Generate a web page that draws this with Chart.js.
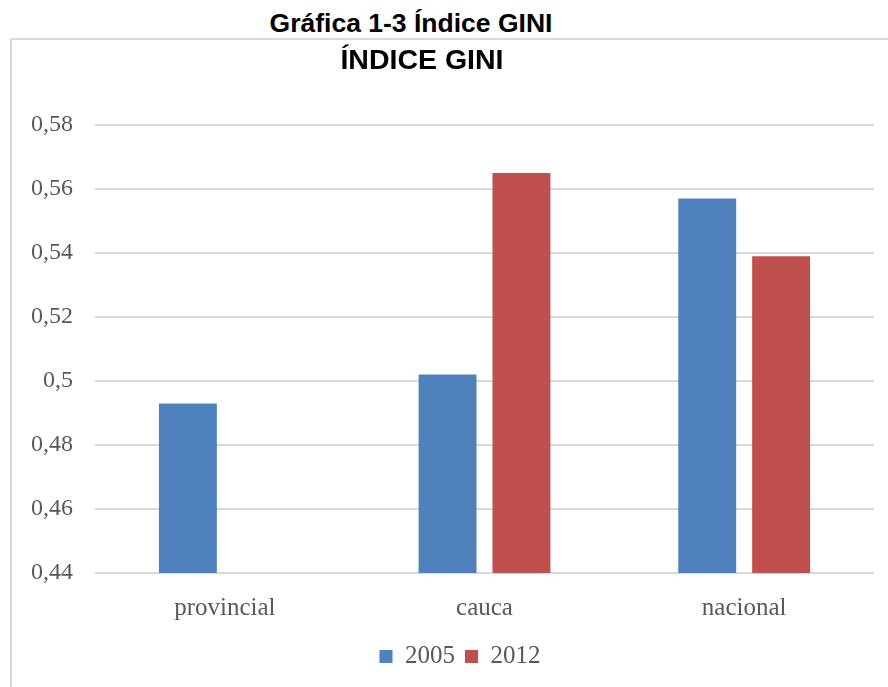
<!DOCTYPE html>
<html lang="es">
<head>
<meta charset="utf-8">
<title>Gráfica 1-3 Índice GINI</title>
<script src="https://cdn.jsdelivr.net/npm/chart.js@4"></script>
<style>
    html, body {
        margin: 0;
        padding: 0;
        background: #ffffff;
        overflow: hidden;
    }
    #page {
        position: relative;
        width: 888px;
        height: 687px;
        overflow: hidden;
    }
    .heading {
        position: absolute;
        left: 0;
        font-family: "Liberation Sans", Arial, sans-serif;
        font-weight: bold;
        color: #000000;
        text-align: center;
        white-space: nowrap;
    }
    #figureTitle {
        top: 10px;
        width: 822px;
        font-size: 26.5px;
        line-height: 26px;
    }
    #chartTitle {
        top: 45px;
        width: 844px;
        font-size: 28.5px;
        line-height: 28px;
        z-index: 2;
    }
    #frame {
        position: absolute;
        left: 10px;
        top: 38px;
        width: 900px;
        height: 700px;
        border: 2px solid #d9d9d9;
        box-sizing: border-box;
    }
    #chartBox {
        position: absolute;
        left: 11px;
        top: 41px;
        width: 898px;
        height: 646px;
    }
</style>
</head>
<body>
<div id="page">
    <div id="figureTitle" class="heading">Gráfica 1-3 Índice GINI</div>
    <div id="frame"></div>
    <div id="chartTitle" class="heading">ÍNDICE GINI</div>
    <div id="chartBox"><canvas id="giniChart"></canvas></div>
</div>

<script>
// Datos de la gráfica
const categories = ['provincial', 'cauca', 'nacional'];
const seriesNames = ['2005', '2012'];
const values2005 = [0.493, 0.502, 0.557];
const values2012 = [null, 0.565, 0.539];
const yTicks = [0.44, 0.46, 0.48, 0.5, 0.52, 0.54, 0.56, 0.58];

const textColor = '#595959';
const gridColor = '#d9d9d9';
const serifFont = '"Liberation Serif", "DejaVu Serif", serif';

// Format a tick value with decimal comma (0.5 -> "0,5")
function formatComma(value) {
    return String(Math.round(value * 100) / 100).replace('.', ',');
}

const ctx = document.getElementById('giniChart').getContext('2d');
const giniChart = new Chart(ctx, {
    type: 'bar',
    data: {
        labels: categories,
        datasets: [{
            label: seriesNames[0],
            data: values2005,
            backgroundColor: '#4f81bd',
            borderWidth: 0
        }, {
            label: seriesNames[1],
            data: values2012,
            backgroundColor: '#c0504d',
            borderWidth: 0
        }]
    },
    options: {
        responsive: true,
        maintainAspectRatio: false,
        animation: false,
        categoryPercentage: 0.569,
        barPercentage: 0.784,
        layout: {
            padding: { top: 84, left: 0, right: 0, bottom: 8 }
        },
        plugins: {
            title: { display: false },
            tooltip: { enabled: false },
            legend: {
                display: true,
                position: 'bottom',
                labels: {
                    color: textColor,
                    boxWidth: 13,
                    boxHeight: 13,
                    padding: 10,
                    font: { family: serifFont, size: 25 }
                }
            }
        },
        scales: {
            x: {
                grid: { display: false },
                border: { display: false },
                ticks: {
                    color: textColor,
                    padding: 12,
                    font: { family: serifFont, size: 25 }
                },
                afterFit: function(scale) {
                    scale.height = 61;
                }
            },
            y: {
                min: yTicks[0],
                max: yTicks[yTicks.length - 1],
                grid: {
                    color: gridColor,
                    lineWidth: 2,
                    drawTicks: false
                },
                border: { display: false },
                afterBuildTicks: function(scale) {
                    scale.ticks = yTicks.map(v => ({ value: v }));
                },
                ticks: {
                    color: textColor,
                    padding: 22,
                    font: { family: serifFont, size: 24 },
                    callback: function(value) {
                        return formatComma(value);
                    }
                },
                afterFit: function(scale) {
                    scale.width = 84;
                }
            },
            // empty right-hand axis: keeps the plot narrower than the legend row
            yRight: {
                position: 'right',
                grid: { display: false },
                border: { display: false },
                ticks: { display: false },
                afterFit: function(scale) {
                    scale.width = 35;
                }
            }
        }
    }
});
</script>
</body>
</html>
